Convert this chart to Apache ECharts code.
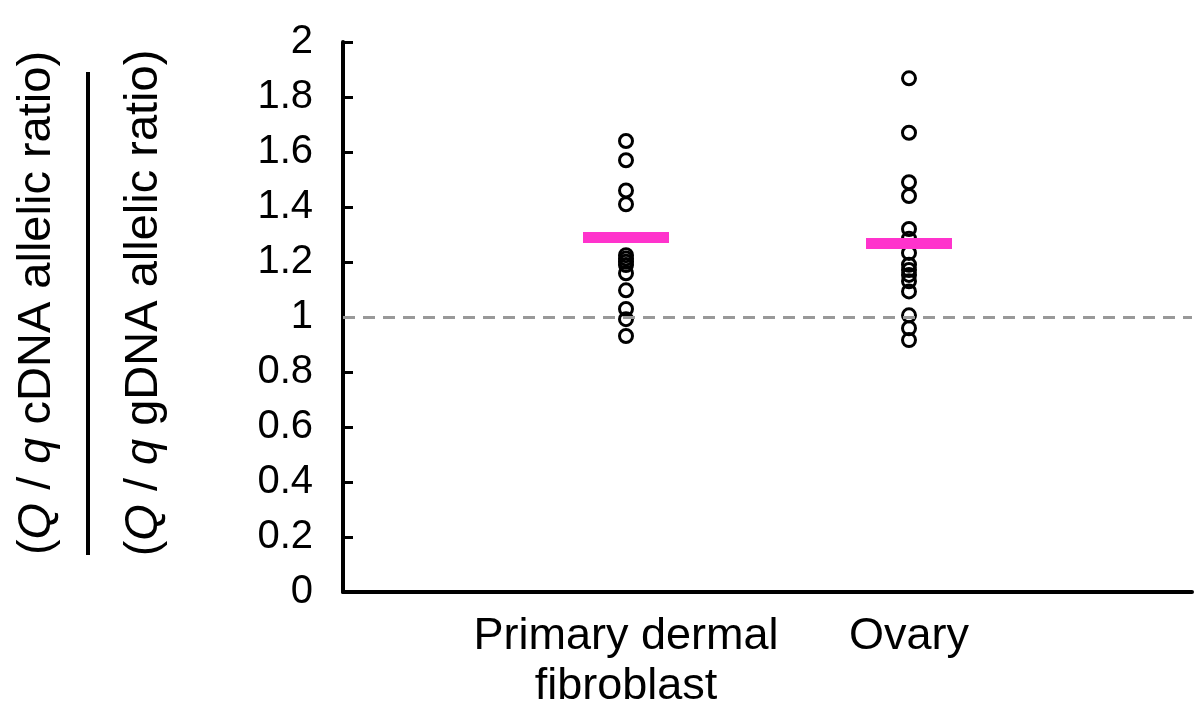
<!DOCTYPE html>
<html>
<head>
<meta charset="utf-8">
<script src="https://cdn.jsdelivr.net/npm/echarts@6/dist/echarts.min.js"></script>
<style>
html,body{margin:0;padding:0;background:#fff;}
#chart{width:1200px;height:716px;}
</style>
</head>
<body>
<div id="chart"></div>
<script>
// Categories (blank ends pad the axis like the original layout)
const categories = ['', 'Primary dermal\nfibroblast', 'Ovary', ''];
// Individual ratios
const fibroblastValues = [1.64, 1.57, 1.46, 1.41, 1.225, 1.213, 1.201, 1.189, 1.159, 1.097, 1.029, 0.992, 0.931];
const ovaryValues = [1.868, 1.67, 1.49, 1.44, 1.32, 1.285, 1.233, 1.19, 1.171, 1.153, 1.13, 1.093, 1.006, 0.959, 0.916];
// Mean markers
const meanValues = [1.289, 1.267];
// Reference level
const referenceLevel = 1;

const FONT = 'Liberation Sans, Arial, Helvetica, sans-serif';

const pointData = []
  .concat(fibroblastValues.map(v => [categories[1], v]))
  .concat(ovaryValues.map(v => [categories[2], v]));
const meanData = [[categories[1], meanValues[0]], [categories[2], meanValues[1]]];

const chart = echarts.init(document.getElementById('chart'), null, {renderer: 'canvas'});

function nameText(kind) {
  return '{n|(}{i|Q}{n| / }{i|q}{n| ' + kind + 'DNA allelic ratio)}';
}
const rich = {
  n: {fontFamily: FONT, fontSize: 47, fill: '#000'},
  i: {fontFamily: FONT, fontSize: 47, fontStyle: 'italic', fill: '#000'}
};

chart.setOption({
  backgroundColor: '#fff',
  animation: false,
  grid: {left: 343, right: 8, top: 42, bottom: 124, containLabel: false},
  xAxis: {
    type: 'category',
    data: categories,
    boundaryGap: false,
    axisLine: {lineStyle: {color: '#000', width: 4}},
    axisTick: {show: false},
    axisLabel: {
      interval: 0,
      color: '#000',
      fontFamily: FONT,
      fontSize: 45,
      lineHeight: 50,
      margin: 20
    },
    splitLine: {show: false}
  },
  yAxis: {
    type: 'value',
    min: 0,
    max: 2,
    interval: 0.2,
    axisLine: {show: true, lineStyle: {color: '#000', width: 4}},
    axisTick: {show: true, inside: true, length: 10, lineStyle: {color: '#000', width: 3}},
    axisLabel: {color: '#000', fontFamily: FONT, fontSize: 40, margin: 30},
    splitLine: {show: false}
  },
  graphic: [
    {
      type: 'text',
      x: 37, y: 303,
      rotation: Math.PI / 2,
      style: {text: nameText('c'), rich: rich, align: 'center', verticalAlign: 'middle', fontFamily: FONT, fontSize: 47}
    },
    {
      type: 'text',
      x: 144, y: 303,
      rotation: Math.PI / 2,
      style: {text: nameText('g'), rich: rich, align: 'center', verticalAlign: 'middle', fontFamily: FONT, fontSize: 47}
    },
    {
      type: 'line',
      shape: {x1: 88, y1: 72, x2: 88, y2: 555},
      style: {stroke: '#000', lineWidth: 4}
    }
  ],
  series: [
    {
      type: 'scatter',
      data: pointData,
      symbol: 'circle',
      symbolSize: 13,
      itemStyle: {color: 'rgba(0,0,0,0)', borderColor: '#000', borderWidth: 3, opacity: 1},
      z: 2,
      markLine: {
        silent: true,
        symbol: ['none', 'none'],
        label: {show: false},
        lineStyle: {color: '#999', width: 3, type: [12, 8], opacity: 1},
        data: [{yAxis: referenceLevel}]
      }
    },
    {
      type: 'scatter',
      data: meanData,
      symbol: 'rect',
      symbolSize: [86, 11],
      itemStyle: {color: '#ff33cc', opacity: 1},
      z: 3
    }
  ]
});
</script>
</body>
</html>
